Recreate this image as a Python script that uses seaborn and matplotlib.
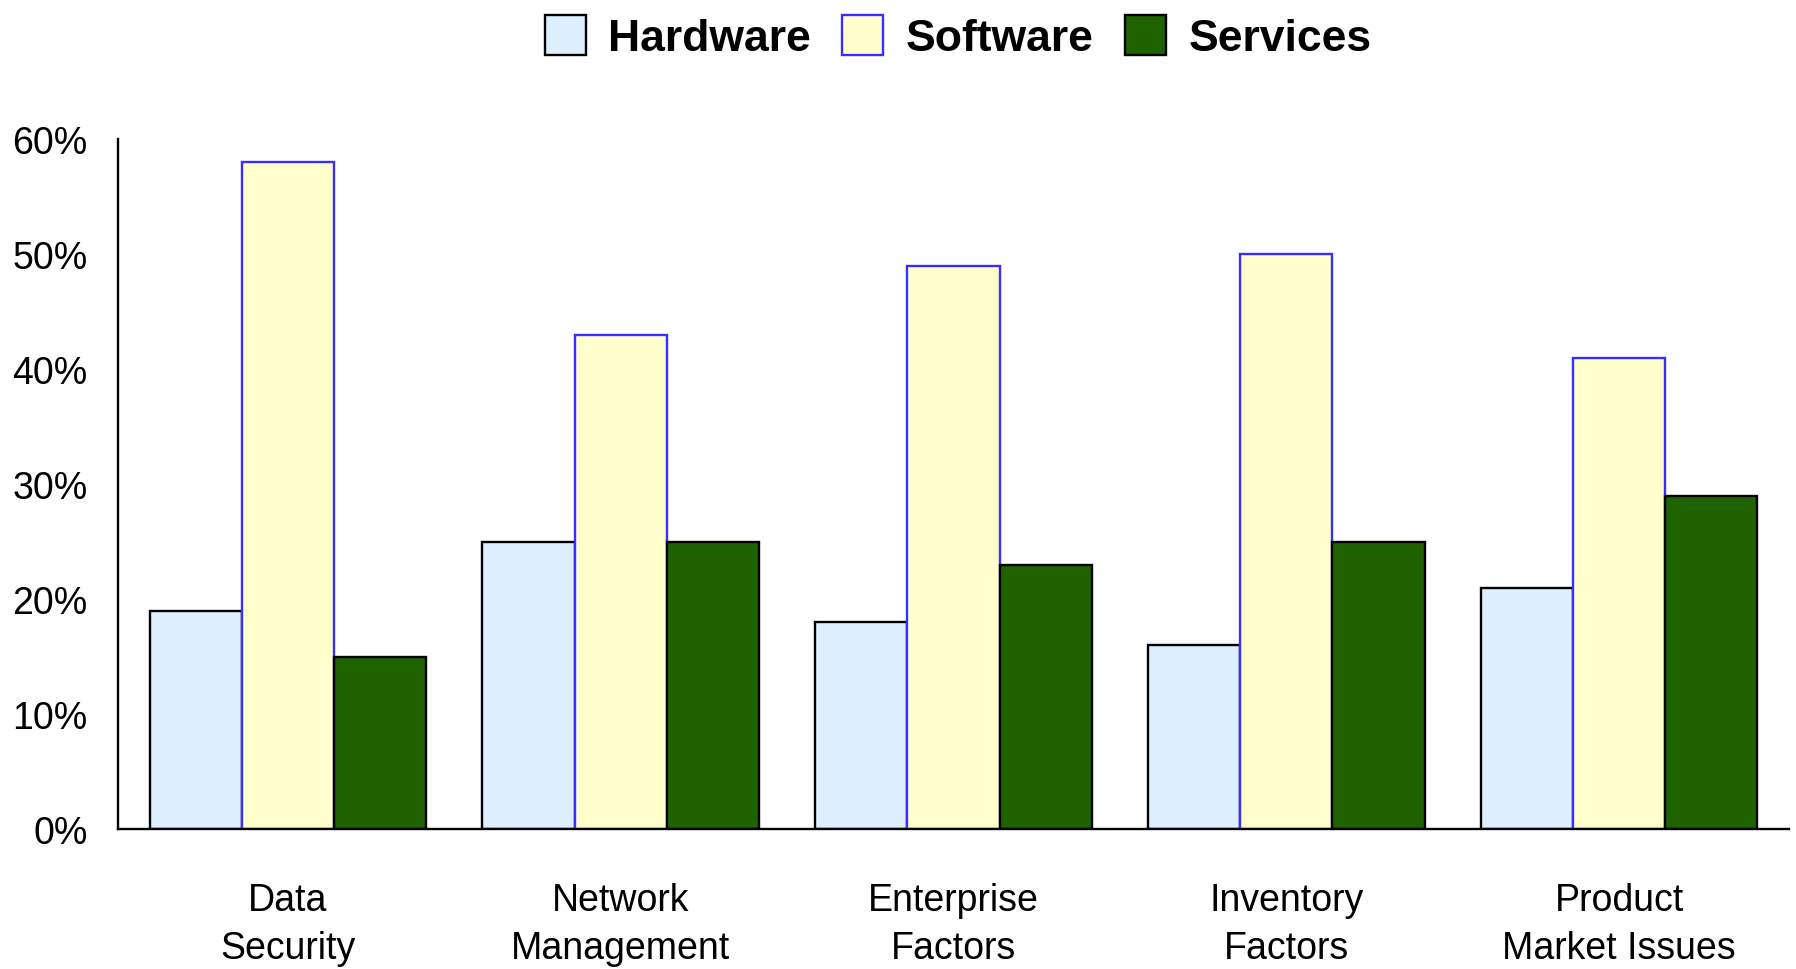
import matplotlib
matplotlib.use("Agg")
import matplotlib.pyplot as plt
import seaborn as sns
import pandas as pd
from matplotlib.patches import Patch
from matplotlib.ticker import FuncFormatter

categories = ["Data\nSecurity", "Network\nManagement", "Enterprise\nFactors", "Inventory\nFactors", "Product\nMarket Issues"]
series = ["Hardware", "Software", "Services"]
hardware = [19, 25, 18, 16, 21]
software = [58, 43, 49, 50, 41]
services = [15, 25, 23, 25, 29]
yticks = [0, 10, 20, 30, 40, 50, 60]

fills = ["#DDEEFF", "#FFFFCC", "#1F6300"]
edges = ["#000000", "#3A2EFF", "#000000"]

rows = []
for s, vals in zip(series, [hardware, software, services]):
    for c, v in zip(categories, vals):
        rows.append({"category": c, "series": s, "value": v})
df = pd.DataFrame(rows)

sns.set_theme(style="white")
plt.rcParams['font.family'] = ['Liberation Sans', 'DejaVu Sans']
plt.rcParams['text.color'] = 'black'

fig = plt.figure(figsize=(17.96, 9.70), dpi=100)
ax = fig.add_axes([118/1796, 1 - 830/970, (1789-118)/1796, (830-140)/970])

sns.barplot(data=df, x="category", y="value", hue="series", order=categories,
            hue_order=series, palette=fills, width=0.83, ax=ax, legend=False,
            saturation=1, errorbar=None)

for cont, ec in zip(ax.containers, edges):
    for p in cont:
        p.set_edgecolor(ec)
        p.set_linewidth(1.7)

ax.set_ylim(0, 60)
ax.set_xlim(-0.51, 4.51)
ax.set_yticks(yticks)
ax.yaxis.set_major_formatter(FuncFormatter(lambda v, p: f"{int(v)}%"))
ax.set_xlabel("")
ax.set_ylabel("")
ax.tick_params(axis="both", length=0, labelsize=27, colors="black")
ax.tick_params(axis="x", pad=38)
ax.tick_params(axis="y", pad=22)
for lbl in ax.get_xticklabels():
    lbl.set_linespacing(1.45)
for sp in ["top", "right"]:
    ax.spines[sp].set_visible(False)
for sp in ["left", "bottom"]:
    ax.spines[sp].set_color("black")
    ax.spines[sp].set_linewidth(1.7)
ax.grid(False)

handles = [Patch(facecolor=f, edgecolor=e, linewidth=1.7) for f, e in zip(fills, edges)]
leg = fig.legend(handles, series, loc="center", bbox_to_anchor=(958/1796, 1 - 38/970), ncol=3,
                 frameon=False, prop={"weight": "bold", "size": 32},
                 handlelength=0.93, handleheight=1.0, handletextpad=0.5, columnspacing=0.7)
for t in leg.get_texts():
    t.set_color("black")

fig.savefig("out.png", dpi=100)
